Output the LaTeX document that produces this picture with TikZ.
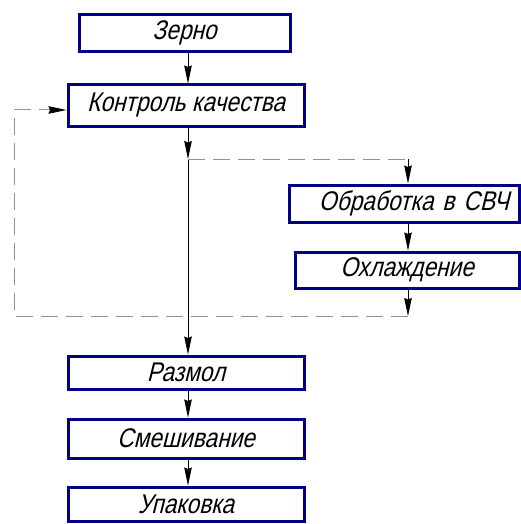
\documentclass[tikz,border=0pt]{standalone}
\usepackage{fontspec}
\newfontfamily\gostfont[FakeSlant=0.25,FakeStretch=0.84]{Liberation Sans}
\usetikzlibrary{arrows.meta,calc,positioning}
\definecolor{boxblue}{RGB}{0,0,135}

\begin{document}
\begin{tikzpicture}[x=1pt, y=-1pt, font=\gostfont\fontsize{27}{29}\selectfont]
   \useasboundingbox (0,0) rectangle (521,524);
   \tikzset{
     stage/.style={draw=boxblue, line width=3pt, fill=white, inner sep=0pt},
     arr/.style={-{Stealth[length=18pt,width=7.5pt,inset=1.5pt,color=black]}, black, line width=0.8pt},
     back/.style={gray!85, line width=1pt, dash pattern=on 17pt off 8pt}
   }
   % stages
   \node (zerno)   [stage, minimum width=211pt, minimum height=37pt] at (184.5,33)  {Зерно};
   \node (kontrol) [stage, minimum width=236pt, minimum height=41pt] at (186,105.5) {Контроль качества};
   \node (svch)    [stage, minimum width=230pt, minimum height=37pt, text width=210pt, align=right] at (404,203.5) {Обработка в СВЧ};
   \node (ohl)     [stage, minimum width=224pt, minimum height=36pt] at (407,270)   {Охлаждение};
   \node (razmol)  [stage, minimum width=236pt, minimum height=33pt] at (186,372.5) {Размол};
   \node (smesh)   [stage, minimum width=236pt, minimum height=39pt] at (186,438.5) {Смешивание};
   \node (upak)    [stage, minimum width=236pt, minimum height=34pt] at (186,504)   {Упаковка};
   % routing points
   \coordinate (col)   at (188,0);
   \coordinate (split) at (188,159);
   \coordinate (sideT) at (408,159);
   \coordinate (sideB) at (408,316);
   \coordinate (retB)  at (14,316);
   % main line
   \draw[arr] (zerno.south -| col) -- (kontrol.north -| col);
   \draw[arr] (kontrol.south -| col) -- (split);
   \draw[arr] (split) -- (razmol.north -| col);
   \draw[arr] (razmol.south -| col) -- (smesh.north -| col);
   \draw[arr] (smesh.south -| col) -- (upak.north -| col);
   % branch through the microwave
   \draw[back] (split) -- (sideT);
   \draw[arr] (sideT) -- (svch.north -| sideT);
   \draw[arr] (svch.south -| sideT) -- (ohl.north -| sideT);
   \draw[arr] (ohl.south -| sideT) -- (sideB);
   \draw[back, -{Stealth[length=18pt,width=7.5pt,inset=1.5pt,color=black]}] (sideB) -- (retB) |- ($(kontrol.west)+(0,4.5)$);
\end{tikzpicture}
\end{document}
